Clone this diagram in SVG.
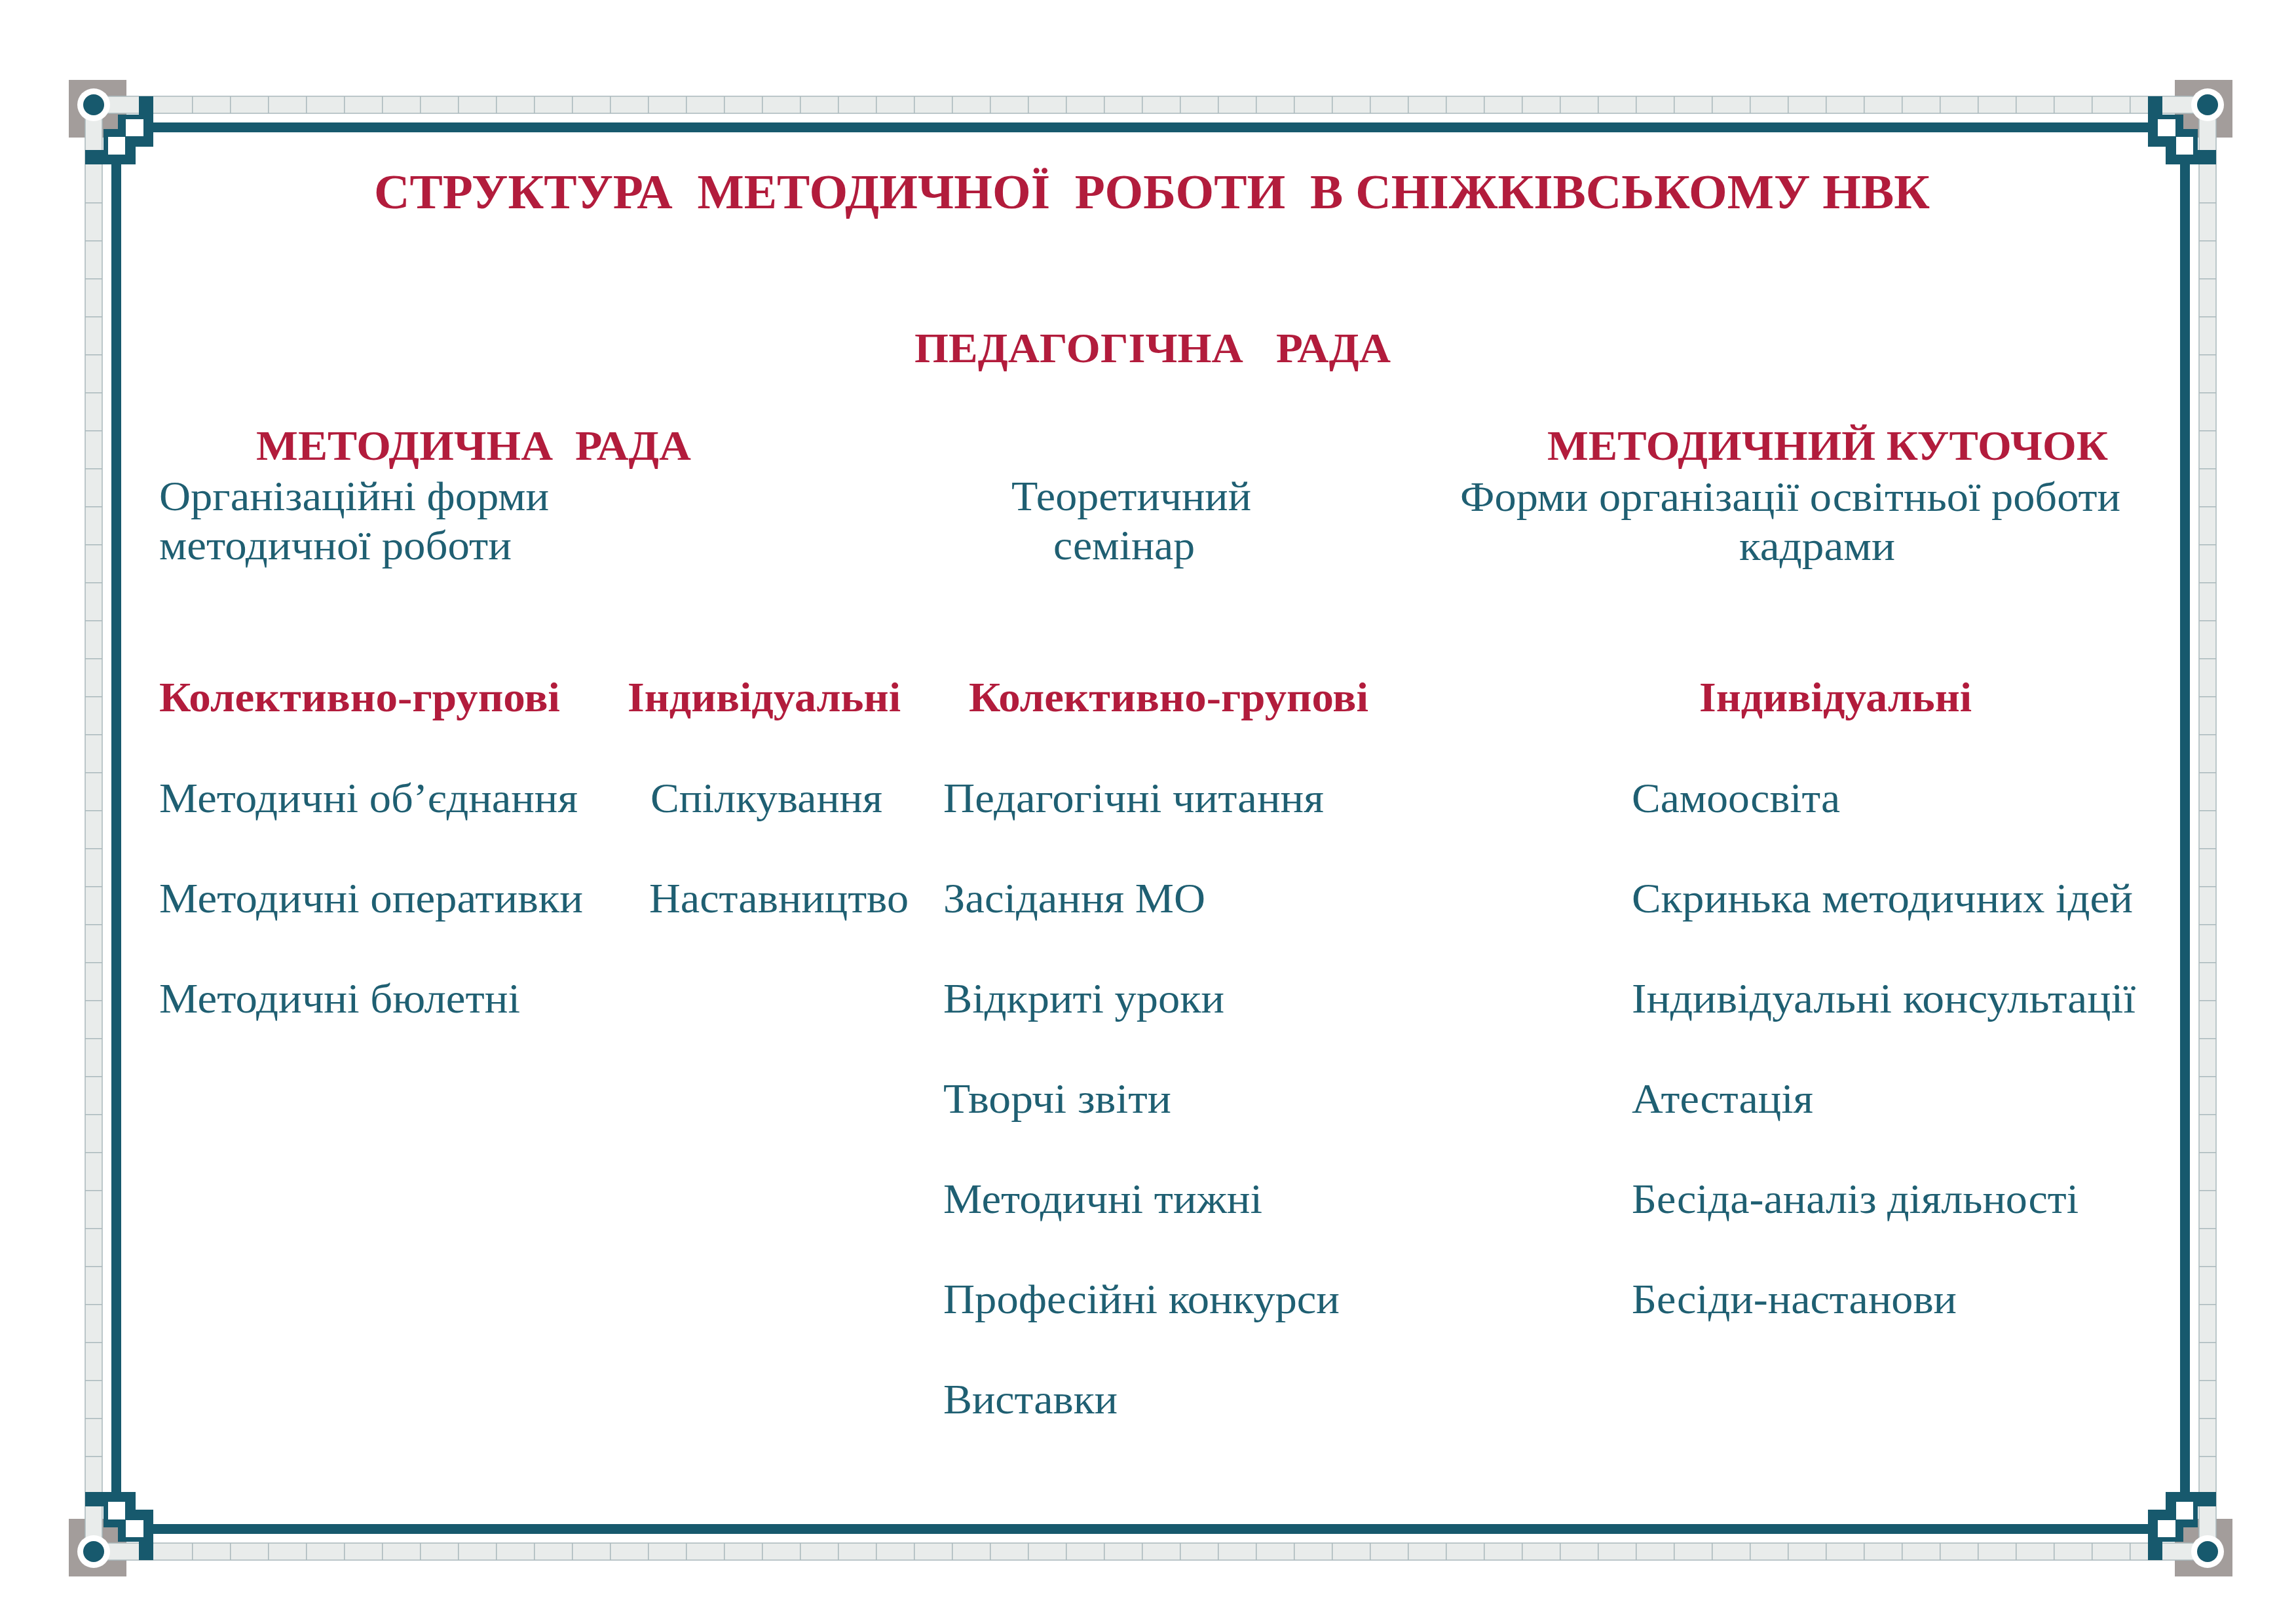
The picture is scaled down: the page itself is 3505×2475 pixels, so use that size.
<svg xmlns="http://www.w3.org/2000/svg" width="3505" height="2475" viewBox="0 0 3505 2475">
<style>
.bg{fill:#ffffff}
.gray{fill:#a39d9b}
.dark{fill:#17596d}
.wht{fill:#ffffff}
.strip{fill:#e9eceb;stroke:#a9b8bc;stroke-width:1.5}
.div{stroke:#a9b8bc;stroke-width:26;stroke-dasharray:1.5 56.5;fill:none}
.t{font-family:"Liberation Serif","Times New Roman",serif;}
.title{font-size:75px;font-weight:bold;fill:#b21c3c;white-space:pre}
.hd{font-size:64px;font-weight:bold;fill:#b21c3c;white-space:pre}
.tx{font-size:64px;fill:#1f5f72;white-space:pre}
</style>
<defs>
<g id="cornerBack">
<rect class="gray" x="-38" y="-38" width="88" height="88"/>
</g>
<g id="cornerFront">
<rect class="dark" x="69" y="-13" width="22" height="77"/>
<rect class="dark" x="-13" y="69" width="77" height="22"/>
<rect class="dark" x="37" y="15" width="54" height="49"/>
<rect class="dark" x="15" y="37" width="49" height="54"/>
<rect class="wht" x="49" y="22" width="27" height="26"/>
<rect class="wht" x="22" y="49" width="26" height="27"/>
<circle class="wht" cx="0" cy="0" r="25"/>
<circle class="dark" cx="0" cy="0" r="16"/>
</g>
</defs>
<rect class="bg" x="0" y="0" width="3505" height="2475"/>
<g id="frame">
<use href="#cornerBack" transform="translate(143,160)"/>
<use href="#cornerBack" transform="translate(3370,160) scale(-1,1)"/>
<use href="#cornerBack" transform="translate(143,2369) scale(1,-1)"/>
<use href="#cornerBack" transform="translate(3370,2369) scale(-1,-1)"/>
<rect class="strip" x="143" y="147" width="3227" height="26"/>
<rect class="strip" x="143" y="2356" width="3227" height="26"/>
<rect class="strip" x="130" y="160" width="26" height="2209"/>
<rect class="strip" x="3357" y="160" width="26" height="2209"/>
<line class="div" x1="293" y1="160" x2="3260" y2="160"/>
<line class="div" x1="293" y1="2369" x2="3260" y2="2369"/>
<line class="div" x1="143" y1="309" x2="143" y2="2230"/>
<line class="div" x1="3370" y1="309" x2="3370" y2="2230"/>
<rect class="dark" x="234" y="187" width="3045" height="15"/>
<rect class="dark" x="234" y="2327" width="3045" height="15"/>
<rect class="dark" x="170" y="250" width="15" height="2029"/>
<rect class="dark" x="3328" y="250" width="15" height="2029"/>
<use href="#cornerFront" transform="translate(143,160)"/>
<use href="#cornerFront" transform="translate(3370,160) scale(-1,1)"/>
<use href="#cornerFront" transform="translate(143,2369) scale(1,-1)"/>
<use href="#cornerFront" transform="translate(3370,2369) scale(-1,-1)"/>
</g>
<g id="title"><text class="t title" x="571" y="318" textLength="2375" lengthAdjust="spacingAndGlyphs">СТРУКТУРА  МЕТОДИЧНОЇ  РОБОТИ  В СНІЖКІВСЬКОМУ НВК</text></g>
<g id="ped-rada"><text class="t hd" x="1396" y="553" textLength="727" lengthAdjust="spacingAndGlyphs">ПЕДАГОГІЧНА   РАДА</text></g>
<g id="met-rada">
<text class="t hd" x="391" y="702" textLength="664" lengthAdjust="spacingAndGlyphs">МЕТОДИЧНА  РАДА</text>
<text class="t tx" x="243" y="779" textLength="595" lengthAdjust="spacingAndGlyphs">Організаційні форми</text>
<text class="t tx" x="243" y="854" textLength="538" lengthAdjust="spacingAndGlyphs">методичної роботи</text>
</g>
<g id="seminar">
<text class="t tx" x="1544" y="779" textLength="366" lengthAdjust="spacingAndGlyphs">Теоретичний</text>
<text class="t tx" x="1608" y="854" textLength="216" lengthAdjust="spacingAndGlyphs">семінар</text>
</g>
<g id="kutochok">
<text class="t hd" x="2362" y="702" textLength="856" lengthAdjust="spacingAndGlyphs">МЕТОДИЧНИЙ КУТОЧОК</text>
<text class="t tx" x="2229" y="780" textLength="1008" lengthAdjust="spacingAndGlyphs">Форми організації освітньої роботи</text>
<text class="t tx" x="2655" y="855" textLength="238" lengthAdjust="spacingAndGlyphs">кадрами</text>
</g>
<g id="col1">
<text class="t hd" x="243" y="1086" textLength="612" lengthAdjust="spacingAndGlyphs">Колективно-групові</text>
<text class="t tx" x="243" y="1240" textLength="639" lengthAdjust="spacingAndGlyphs">Методичні об’єднання</text>
<text class="t tx" x="243" y="1393" textLength="647" lengthAdjust="spacingAndGlyphs">Методичні оперативки</text>
<text class="t tx" x="243" y="1546" textLength="551" lengthAdjust="spacingAndGlyphs">Методичні бюлетні</text>
</g>
<g id="col2">
<text class="t hd" x="958" y="1086" textLength="417" lengthAdjust="spacingAndGlyphs">Індивідуальні</text>
<text class="t tx" x="993" y="1240" textLength="354" lengthAdjust="spacingAndGlyphs">Спілкування</text>
<text class="t tx" x="991" y="1393" textLength="396" lengthAdjust="spacingAndGlyphs">Наставництво</text>
</g>
<g id="col3">
<text class="t hd" x="1479" y="1086" textLength="610" lengthAdjust="spacingAndGlyphs">Колективно-групові</text>
<text class="t tx" x="1440" y="1240" textLength="581" lengthAdjust="spacingAndGlyphs">Педагогічні читання</text>
<text class="t tx" x="1440" y="1393" textLength="400" lengthAdjust="spacingAndGlyphs">Засідання МО</text>
<text class="t tx" x="1440" y="1546" textLength="429" lengthAdjust="spacingAndGlyphs">Відкриті уроки</text>
<text class="t tx" x="1440" y="1699" textLength="348" lengthAdjust="spacingAndGlyphs">Творчі звіти</text>
<text class="t tx" x="1440" y="1852" textLength="487" lengthAdjust="spacingAndGlyphs">Методичні тижні</text>
<text class="t tx" x="1440" y="2005" textLength="605" lengthAdjust="spacingAndGlyphs">Професійні конкурси</text>
<text class="t tx" x="1440" y="2158" textLength="266" lengthAdjust="spacingAndGlyphs">Виставки</text>
</g>
<g id="col4">
<text class="t hd" x="2594" y="1086" textLength="416" lengthAdjust="spacingAndGlyphs">Індивідуальні</text>
<text class="t tx" x="2491" y="1240" textLength="318" lengthAdjust="spacingAndGlyphs">Самоосвіта</text>
<text class="t tx" x="2491" y="1393" textLength="765" lengthAdjust="spacingAndGlyphs">Скринька методичних ідей</text>
<text class="t tx" x="2491" y="1546" textLength="769" lengthAdjust="spacingAndGlyphs">Індивідуальні консультації</text>
<text class="t tx" x="2491" y="1699" textLength="277" lengthAdjust="spacingAndGlyphs">Атестація</text>
<text class="t tx" x="2491" y="1852" textLength="682" lengthAdjust="spacingAndGlyphs">Бесіда-аналіз діяльності</text>
<text class="t tx" x="2491" y="2005" textLength="496" lengthAdjust="spacingAndGlyphs">Бесіди-настанови</text>
</g>
</svg>
